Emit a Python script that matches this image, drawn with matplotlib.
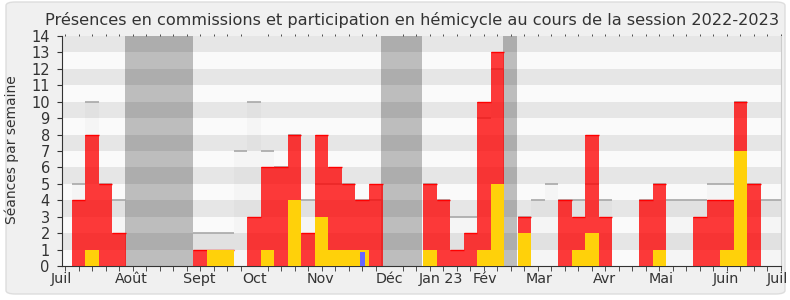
import matplotlib
matplotlib.use("Agg")
import matplotlib.pyplot as plt
from matplotlib.patches import FancyBboxPatch

# semaines de la session (0 = début juillet 2022)
weeks = list(range(54))

# présences (commission + hémicycle) par semaine
presences = [0, 4, 8, 5, 2, 0, 0, 0, 0, 0,
             1, 1, 1, 0, 3, 6, 6, 8, 2, 8,
             6, 5, 4, 5, 0, 0, 0, 5, 4, 1,
             2, 10, 13, 0, 3, 0, 0, 4, 3, 8,
             3, 0, 0, 4, 5, 0, 0, 3, 4, 4,
             10, 5, 0, 0]
# participation en hémicycle
hemicycle = [0, 0, 1, 0, 0, 0, 0, 0, 0, 0,
             0, 1, 1, 0, 0, 1, 0, 4, 0, 3,
             1, 1, 1, 0, 0, 0, 0, 1, 0, 0,
             0, 1, 5, 0, 2, 0, 0, 0, 1, 2,
             0, 0, 0, 0, 1, 0, 0, 0, 0, 1,
             7, 0, 0, 0]
# questions orales
questions = {22: 0.87}
# médiane des députés
mediane = [0, 5, 10, 5, 4, 0, 0, 0, 0, 0,
           2, 2, 2, 7, 10, 7, 6, 8, 4, 5,
           5, 5, 4, 4, 0, 0, 0, 5, 4, 3,
           3, 9, 12, 0, 3, 4, 5, 4, 4, 5,
           4, 0, 0, 4, 5, 4, 4, 4, 5, 5,
           10, 5, 4, 4]
# vacances parlementaires (en semaines)
vacances = [(4.44, 9.45), (23.4, 26.45), (32.42, 33.48)]

mois_pos = [-0.25, 4.9, 9.9, 14.0, 18.9, 24.0, 27.8, 31.1, 35.1, 39.9, 44.1, 48.9, 52.75]
mois_labels = ["Juil", "Août", "Sept", "Oct", "Nov", "Déc", "Jan 23", "Fév",
               "Mar", "Avr", "Mai", "Juin", "Juil"]

plt.rcParams['font.family'] = ['DejaVu Sans']
txt = '#333333'

fig = plt.figure(figsize=(7.9, 3.0), dpi=100, facecolor='white')
fig.patches.append(FancyBboxPatch((6 / 790, 6 / 300), 779 / 790, 292 / 300,
                                  boxstyle="round,pad=0,rounding_size=0.012",
                                  transform=fig.transFigure, facecolor='#f0f0f0',
                                  edgecolor='#dddddd', linewidth=1, zorder=-10))
ax = fig.add_axes([61.7 / 790, 1 - 266 / 300, (781 - 61.7) / 790, 230 / 300])
ax.set_facecolor('#fafafa')

# bandes horizontales
for j in range(14):
    if j % 2 == 1:
        ax.axhspan(j, j + 1, color='#e6e6e6', lw=0, zorder=0)

# vacances
for a, b in vacances:
    ax.axvspan(a, b, color='#bdbdbd', lw=0, zorder=1)
    for j in range(1, 14, 2):
        ax.bar(a, 1, width=b - a, bottom=j, align='edge', color='#adadad', lw=0, zorder=1.1)

# médiane
ax.bar(weeks, mediane, width=1.0, color='black', alpha=0.02, lw=0, zorder=2)
for w, m in zip(weeks, mediane):
    if m > 0:
        ax.hlines(m, w - 0.5, w + 0.5, color='#a8a8a8', lw=1.2, zorder=2.1)

# présences
ax.bar(weeks, presences, width=1.0, color='#ff0000', alpha=0.77, lw=0, zorder=3)
for w, p in zip(weeks, presences):
    if p > 0:
        ax.hlines(p, w - 0.5, w + 0.5, color='#ff0000', lw=1.0, zorder=3.1)

# hémicycle
ax.bar(weeks, hemicycle, width=1.0, color='#ffd10a', lw=0, zorder=4)

# questions orales
ax.bar(list(questions.keys()), list(questions.values()), width=0.37,
       color='#6666ff', lw=0, zorder=5)

ax.set_xlim(0, 53)
ax.set_ylim(0, 14)
ax.set_yticks(range(15))
ax.tick_params(axis='y', direction='out', length=3.6, color=txt, labelsize=10.5,
               labelcolor=txt, pad=5)
ax.set_xticks(mois_pos, mois_labels)
ax.tick_params(axis='x', which='major', length=0, labelsize=10.3, labelcolor=txt, pad=4)
ax.set_xticks(range(54), minor=True)
ax.tick_params(axis='x', which='minor', direction='out', length=3.6, color=txt,
               top=True, bottom=True)
for t in ax.xaxis.get_minor_ticks():
    t.tick2line.set_markersize(1.2)

for s in ['left', 'bottom']:
    ax.spines[s].set_color(txt)
ax.spines['top'].set_visible(False)
ax.spines['right'].set_color('#cccccc')

fig.text(12 / 790, 1 - 150 / 300, "Séances par semaine", rotation=90,
         ha='center', va='center', fontsize=10, color=txt)
fig.text(0.522, 0.935, "Présences en commissions et participation en hémicycle "
         "au cours de la session 2022-2023", ha='center', va='center',
         fontsize=11.6, color=txt)

fig.savefig("out.png", dpi=100, facecolor=fig.get_facecolor())
